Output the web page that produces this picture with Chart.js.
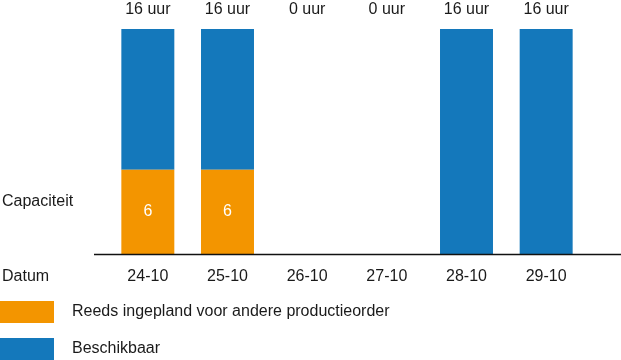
<!DOCTYPE html>
<html>
<head>
<meta charset="utf-8">
<script src="https://cdn.jsdelivr.net/npm/chart.js@4/dist/chart.umd.min.js"></script>
<style>
body{margin:0;background:#fff;font-family:"Liberation Sans",Arial,sans-serif;color:#1a1a1a;}
#wrap{position:relative;width:621px;height:360px;overflow:hidden;}
#capChart{position:absolute;left:0;top:0;}
.side{position:absolute;left:2px;font-size:16px;line-height:16px;}
.sw{position:absolute;left:0;width:54px;height:22px;}
.lt{position:absolute;left:72px;white-space:nowrap;font-size:16px;line-height:16px;}
</style>
</head>
<body>
<div id="wrap">
<canvas id="capChart" width="621" height="360"></canvas>
<div class="side" style="top:193px">Capaciteit</div>
<div class="side" style="top:268px">Datum</div>
<div class="sw" style="top:301px;background:#f39500"></div>
<div class="lt" style="top:303px">Reeds ingepland voor andere productieorder</div>
<div class="sw" style="top:338px;background:#1478bb"></div>
<div class="lt" style="top:340px">Beschikbaar</div>
</div>
<script>
const dates = ["24-10","25-10","26-10","27-10","28-10","29-10"];
const planned = [6, 6, 0, 0, 0, 0];
const available = [10, 10, 0, 0, 16, 16];

const totals = dates.map((d, i) => planned[i] + available[i]);

const ctx = document.getElementById("capChart").getContext("2d");

/* labels above bars, values inside, baseline */
const extras = {
  id: "extras",
  afterDatasetsDraw(chart){
    const c = chart.ctx;
    const xs = chart.scales.x;
    const ys = chart.scales.y;
    const top = chart.chartArea.top;
    c.save();
    c.font = "16px 'Liberation Sans', Arial, sans-serif";
    c.textAlign = "center";
    c.textBaseline = "middle";
    c.fillStyle = "#1a1a1a";
    totals.forEach((t, i) => {
      c.fillText(t + " uur", xs.getPixelForValue(i), top - 19);
    });
    c.fillStyle = "#ffffff";
    chart.getDatasetMeta(0).data.forEach((bar, i) => {
      if(planned[i] > 0) c.fillText(String(planned[i]), bar.x, (bar.y + bar.base) / 2);
    });
    const y0 = Math.round(ys.getPixelForValue(0)) + 0.5;
    c.strokeStyle = "#111";
    c.lineWidth = 1.6;
    c.beginPath();
    c.moveTo(94, y0);
    c.lineTo(chart.width, y0);
    c.stroke();
    c.restore();
  }
};

new Chart(ctx, {
  type: "bar",
  data: {
    labels: dates,
    datasets: [
      {label: "Reeds ingepland voor andere productieorder", data: planned, backgroundColor: "#f39500", borderWidth: 0},
      {label: "Beschikbaar", data: available, backgroundColor: "#1478bb", borderWidth: 0}
    ]
  },
  options: {
    responsive: false,
    animation: false,
    layout: {padding: {left: 108, right: 35, top: 29, bottom: 0}},
    datasets: {bar: {barPercentage: 0.665, categoryPercentage: 1}},
    plugins: {legend: {display: false}, tooltip: {enabled: false}},
    scales: {
      x: {
        stacked: true,
        grid: {display: false, drawTicks: false},
        border: {display: false},
        ticks: {color: "#1a1a1a", padding: 13, font: {family: "'Liberation Sans', Arial, sans-serif", size: 16}},
        afterFit(scale){ scale.height = 106; }
      },
      y: {stacked: true, display: false, min: 0, max: 16}
    }
  },
  plugins: [extras]
});
</script>
</body>
</html>
